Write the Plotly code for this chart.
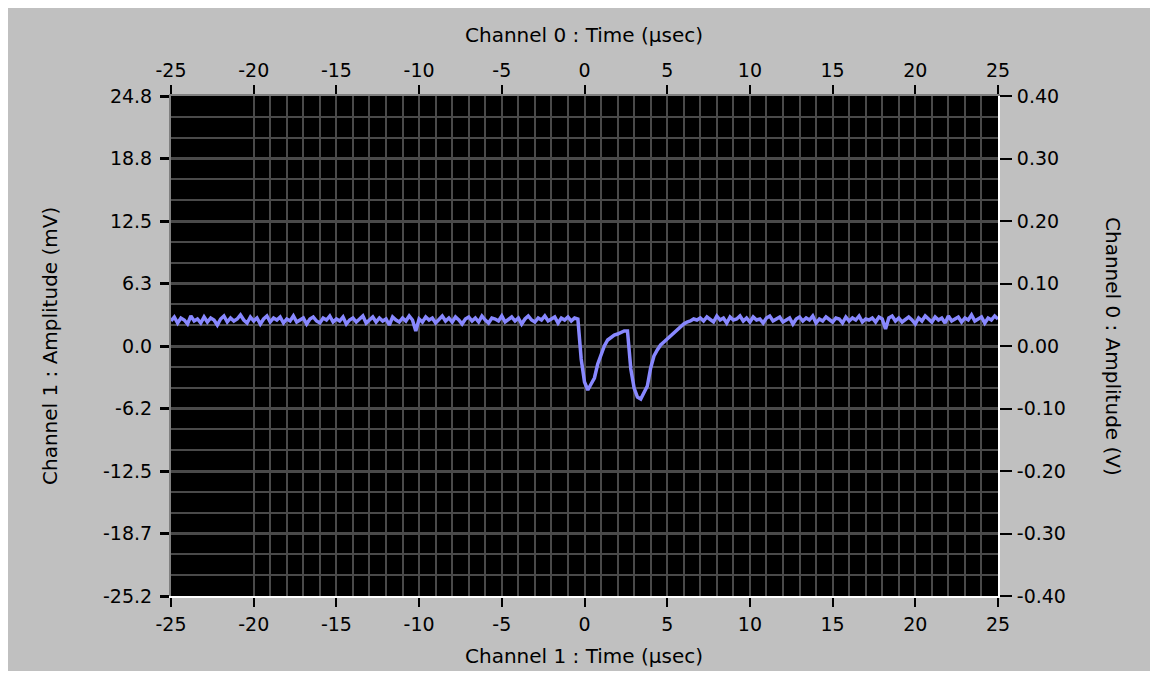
import numpy as np
import plotly.graph_objects as go

# ---------------- data ----------------
t_start, t_end, n_samples = -25.0, 25.0, 251   # sample times, µs (0.2 µs step)

pre_pulse_mv = [
    2.3, 2.7, 2.1, 2.6, 2.4, 2.0, 2.8, 2.3, 2.5, 2.1,
    2.7, 2.2, 2.6, 2.4, 1.9, 2.5, 2.8, 2.2, 2.6, 2.3,
    2.5, 2.9, 2.4, 2.1, 2.7, 2.3, 2.6, 2.0, 2.5, 2.8,
    2.2, 2.6, 2.4, 2.7, 2.1, 2.5, 2.3, 2.8, 2.2, 2.4,
    2.6, 2.0, 2.5, 2.7, 2.3, 2.1, 2.6, 2.4, 2.8, 2.2,
    2.5, 2.3, 2.7, 2.0, 2.4, 2.6, 2.2, 2.5, 2.8, 2.1,
    2.4, 2.7, 2.2, 2.6, 2.3, 2.5, 1.9, 2.7, 2.4, 2.2,
    2.6, 2.3, 2.8, 2.4, 1.3, 2.5, 2.2, 2.7, 2.4, 2.6,
    2.1, 2.5, 2.8, 2.3, 2.6, 2.2, 2.7, 2.4, 2.0, 2.5,
    2.7, 2.3, 2.6, 2.2, 2.8, 2.4, 2.1, 2.6, 2.5, 2.3,
    2.8, 2.2, 2.5, 2.7, 2.3, 2.6, 2.0, 2.5, 2.8, 2.4,
    2.2, 2.6, 2.4, 2.8, 2.3, 2.5, 2.7, 2.1, 2.6, 2.4,
    2.7, 2.3, 2.6,
]
pulse_mv = [
    2.5, -1.5, -3.8, -4.6, -4.0, -3.4, -2.0, -1.1, -0.2, 0.4,
    0.7, 0.9, 1.0, 1.2, 1.3, 1.3, -2.5, -4.4, -5.3, -5.5,
    -4.8, -4.2, -2.4, -1.2, -0.6, -0.1, 0.2, 0.5, 0.9, 1.2,
    1.5, 1.8, 2.0, 2.2, 2.3, 2.5, 2.4, 2.6,
]
post_pulse_mv = [
    2.3, 2.7, 2.5, 2.2, 2.8, 2.4, 2.6, 2.1, 2.7, 2.4,
    2.5, 2.8, 2.3, 2.6, 2.2, 2.7, 2.4, 2.5, 2.1, 2.6,
    2.8, 2.3, 2.5, 2.7, 2.2, 2.4, 2.6, 2.0, 2.5, 2.7,
    2.3, 2.6, 2.4, 2.8, 2.1, 2.5, 2.3, 2.7, 2.4, 2.2,
    2.6, 2.5, 2.1, 2.7, 2.3, 2.6, 2.4, 2.8, 2.2, 2.5,
    2.4, 2.6, 2.2, 2.7, 2.5, 1.5, 2.6, 2.8, 2.3, 2.6,
    2.2, 2.5, 2.7, 2.4, 2.0, 2.6, 2.3, 2.8, 2.5, 2.2,
    2.7, 2.4, 2.6, 2.1, 2.8, 2.3, 2.5, 2.7, 2.2, 2.6,
    2.4, 2.9, 2.3, 2.5, 2.7, 2.1, 2.6, 2.4, 2.8, 2.5,
]

x_ticks = [-25, -20, -15, -10, -5, 0, 5, 10, 15, 20, 25]
left_tick_labels = ["24.8", "18.8", "12.5", "6.3", "0.0", "-6.2", "-12.5", "-18.7", "-25.2"]
right_tick_labels = ["0.40", "0.30", "0.20", "0.10", "0.00", "-0.10", "-0.20", "-0.30", "-0.40"]
y_left_range = [-25.2, 24.8]
y_right_range = [-0.40, 0.40]

top_title = "Channel 0 : Time (µsec)"
bottom_title = "Channel 1 : Time (µsec)"
left_title = "Channel 1 : Amplitude (mV)"
right_title = "Channel 0 : Amplitude (V)"

# ---------------- build ----------------
t = np.linspace(t_start, t_end, n_samples)
amp = np.array(pre_pulse_mv + pulse_mv + post_pulse_mv)

OFF = 8                      # page body margin
W, H = 1150, 663
L, R, T, B = 163, 160, 88, 75
pw, ph = W - L - R, H - T - B

def px(xs):  # screen pixel x -> paper
    return (xs - OFF - L) / pw

def py(ys):  # screen pixel y -> paper
    return (H - B - (ys - OFF)) / ph

FONT = "DejaVu Sans"
grid_col = "#4a4a4a"

left_tick_pos = list(np.linspace(y_left_range[1], y_left_range[0], len(left_tick_labels)))
left_minor = [v for v in np.linspace(y_left_range[0], y_left_range[1], 25)
              if min(abs(v - m) for m in left_tick_pos) > 1e-6]
right_tick_pos = list(np.linspace(y_right_range[1], y_right_range[0], len(right_tick_labels)))
x_minor = [v for v in range(-20, 26) if v % 5 != 0]

fig = go.Figure()
fig.add_trace(go.Scatter(x=t, y=amp, mode="lines",
                         line=dict(color="#8888ff", width=3.5),
                         xaxis="x", yaxis="y", showlegend=False, hoverinfo="skip"))
fig.add_trace(go.Scatter(x=[t_start], y=[0], mode="markers", marker=dict(opacity=0),
                         xaxis="x2", yaxis="y", showlegend=False, hoverinfo="skip"))
fig.add_trace(go.Scatter(x=[t_start], y=[0], mode="markers", marker=dict(opacity=0),
                         xaxis="x", yaxis="y2", showlegend=False, hoverinfo="skip"))

tickfont = dict(family=FONT, size=19, color="#000000")
titlefont = dict(family=FONT, size=20, color="#000000")

fig.update_layout(
    width=W, height=H,
    margin=dict(l=L, r=R, t=T, b=B, pad=0),
    paper_bgcolor="#c0c0c0",
    plot_bgcolor="#000000",
    showlegend=False,
    xaxis=dict(range=[t_start, t_end], tickvals=x_ticks, ticktext=[str(v) for v in x_ticks],
               ticks="outside", ticklen=9, tickwidth=2, tickcolor="#000000",
               tickfont=tickfont, ticklabelstandoff=1,
               showgrid=True, gridcolor=grid_col, gridwidth=2,
               minor=dict(tickvals=x_minor, showgrid=True, gridcolor=grid_col, gridwidth=2, ticks=""),
               showline=True, linecolor="#ffffff", linewidth=2, zeroline=False),
    xaxis2=dict(range=[t_start, t_end], overlaying="x", side="top",
                tickvals=x_ticks, ticktext=[str(v) for v in x_ticks],
                ticks="outside", ticklen=9, tickwidth=2, tickcolor="#000000",
                tickfont=tickfont, ticklabelstandoff=0,
                showgrid=False, showline=True, linecolor="#808080", linewidth=2, zeroline=False),
    yaxis=dict(range=y_left_range, tickvals=left_tick_pos, ticktext=left_tick_labels,
               ticks="outside", ticklen=9, tickwidth=3, tickcolor="#000000",
               tickfont=tickfont, ticklabelstandoff=4,
               showgrid=True, gridcolor=grid_col, gridwidth=3,
               minor=dict(tickvals=left_minor, showgrid=True, gridcolor=grid_col, gridwidth=2, ticks=""),
               showline=True, linecolor="#808080", linewidth=2, zeroline=False),
    yaxis2=dict(range=y_right_range, overlaying="y", side="right",
                tickvals=right_tick_pos, ticktext=right_tick_labels,
                ticks="outside", ticklen=12, tickwidth=2, tickcolor="#000000",
                tickfont=tickfont, ticklabelstandoff=1,
                showgrid=False, showline=True, linecolor="#ffffff", linewidth=2, zeroline=False),
    annotations=[
        dict(text=top_title, xref="paper", yref="paper", x=px(584), y=py(35),
             showarrow=False, font=titlefont, xanchor="center", yanchor="middle"),
        dict(text=bottom_title, xref="paper", yref="paper", x=px(584), y=py(656),
             showarrow=False, font=titlefont, xanchor="center", yanchor="middle"),
        dict(text=left_title, xref="paper", yref="paper", x=px(50), y=py(346),
             showarrow=False, textangle=-90, font=titlefont, xanchor="center", yanchor="middle"),
        dict(text=right_title, xref="paper", yref="paper", x=px(1113), y=py(346),
             showarrow=False, textangle=90, font=titlefont, xanchor="center", yanchor="middle"),
    ],
)

fig.write_html("out.html")
